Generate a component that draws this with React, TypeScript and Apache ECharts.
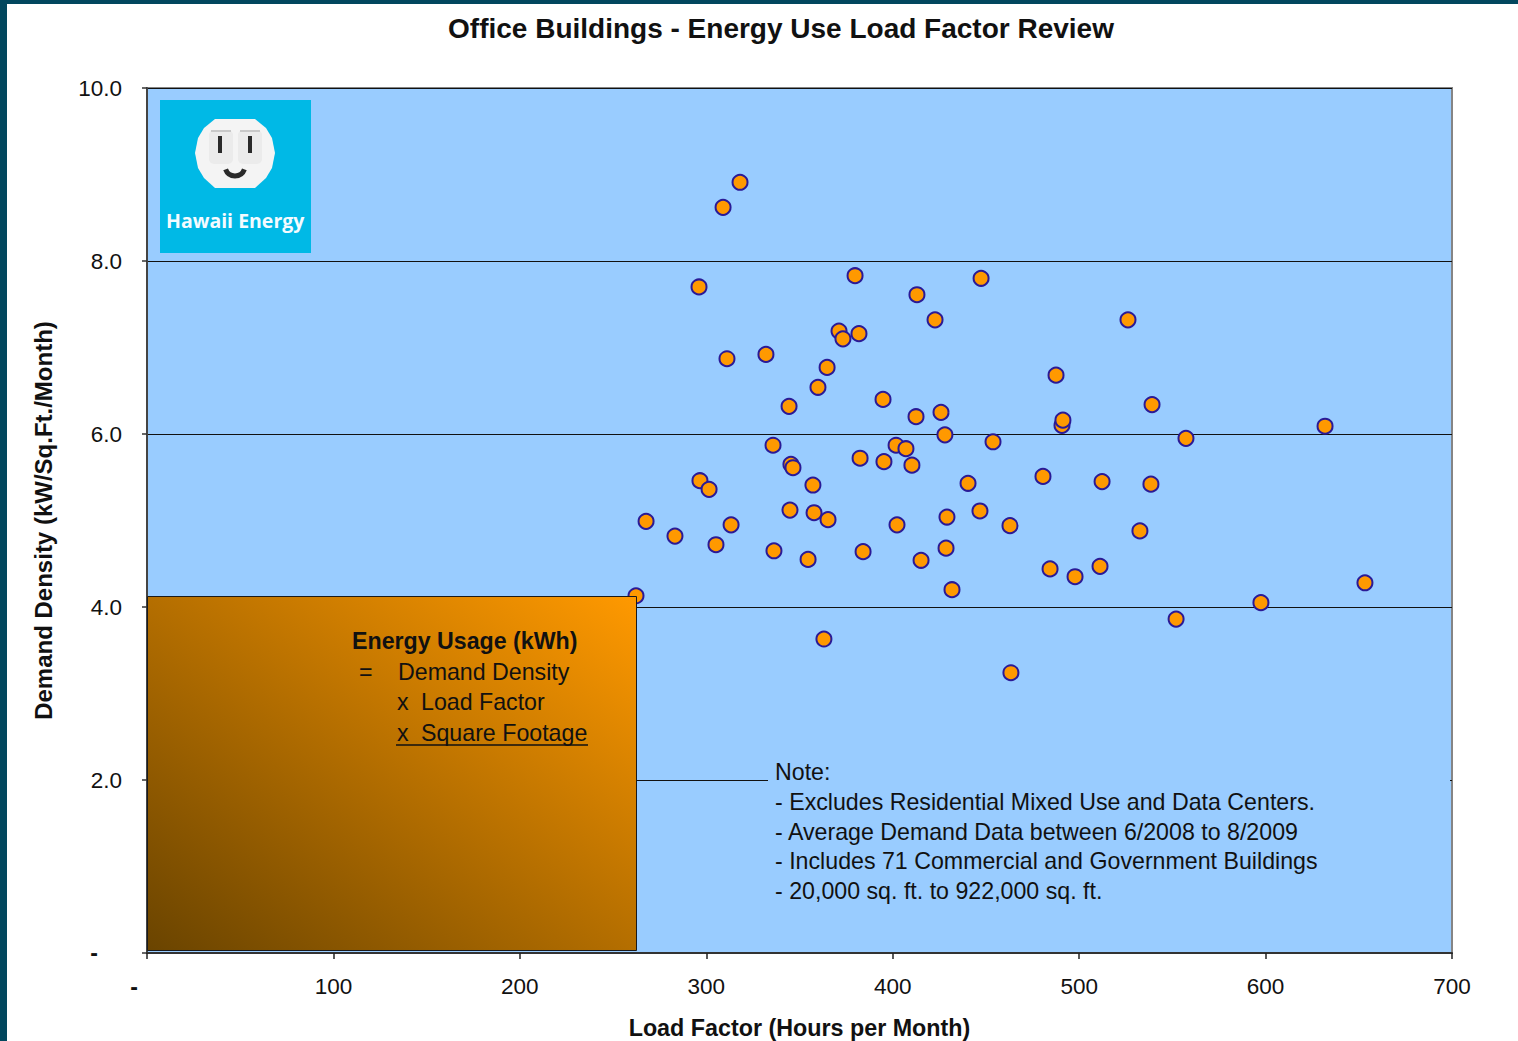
import React, { useEffect, useRef } from "react";
import * as echarts from "echarts";

const titleText = "Office Buildings - Energy Use Load Factor Review";
const xAxisName = "Load Factor (Hours per Month)";
const yAxisName = "Demand Density (kW/Sq.Ft./Month)";
const loadFactor = [
  262.3, 267.7, 283.2, 296.1, 296.6, 301.5, 305.2, 309.0, 311.1, 313.3, 318.1, 332.0, 335.8, 336.3, 344.4, 344.9, 345.4,
  346.5, 354.6, 357.2, 357.8, 359.9, 363.1, 364.8, 365.3, 371.2, 373.3, 379.8, 381.9, 382.5, 384.1, 394.8, 395.3, 401.8,
  402.3, 407.1, 410.3, 412.5, 413.0, 415.2, 422.7, 425.9, 428.0, 428.6, 429.1, 431.8, 440.4, 446.8, 447.4, 453.8, 462.9,
  463.4, 480.6, 484.4, 487.6, 490.8, 491.3, 497.8, 511.2, 512.3, 526.2, 532.6, 538.5, 539.1, 552.0, 557.3, 597.5, 631.9,
  653.3,
];
const demandDensity = [
  4.13, 4.99, 4.82, 7.7, 5.46, 5.36, 4.72, 8.62, 6.87, 4.95, 8.91, 6.92, 5.87, 4.65, 6.32, 5.12, 5.65,
  5.61, 4.55, 5.41, 5.09, 6.54, 3.63, 6.77, 5.01, 7.19, 7.1, 7.83, 7.16, 5.72, 4.64, 6.4, 5.68, 5.87,
  4.95, 5.83, 5.64, 6.2, 7.61, 4.54, 7.32, 6.25, 5.99, 4.68, 5.04, 4.2, 5.43, 5.11, 7.8, 5.91, 4.94,
  3.24, 5.51, 4.44, 6.68, 6.1, 6.16, 4.35, 4.47, 5.45, 7.32, 4.88, 5.42, 6.34, 3.86, 5.95, 4.05, 6.09,
  4.28,
];
const noteLines = [
  "Note:",
  "- Excludes Residential Mixed Use and Data Centers.",
  "- Average Demand Data between 6/2008 to 8/2009",
  "- Includes 71 Commercial and Government Buildings",
  "- 20,000 sq. ft. to 922,000 sq. ft.",
];
const FONT = "'Liberation Sans', Arial, sans-serif";

export default function App() {
  const ref = useRef<HTMLDivElement>(null);
  useEffect(() => {
    document.body.style.margin = "0";
    const chart = echarts.init(ref.current!, undefined, { renderer: "svg" });
    const txt = (x: number, y: number, text: string, bold = false) => ({
      type: "text",
      x,
      y,
      z: 20,
      style: {
        text,
        fill: "#111",
        font: `${bold ? "bold " : ""}23.2px ${FONT}`,
        verticalAlign: "middle",
      },
    });
    chart.setOption({
      animation: false,
      backgroundColor: "#ffffff",
      title: {
        text: titleText,
        left: 776,
        top: 9,
        textAlign: "center",
        textStyle: { fontFamily: FONT, fontSize: 28, fontWeight: "bold", color: "#111" },
      },
      grid: {
        left: 147,
        top: 88,
        width: 1305,
        height: 865,
        outerBoundsMode: "none",
        show: true,
        backgroundColor: "#99ccff",
        borderColor: "#858585",
        borderWidth: 2,
      },
      xAxis: {
        type: "value",
        min: 0,
        max: 700,
        interval: 100,
        name: xAxisName,
        nameLocation: "middle",
        nameGap: 63,
        nameTextStyle: { fontFamily: FONT, fontSize: 23.3, fontWeight: "bold", color: "#111" },
        axisLine: { onZero: false, lineStyle: { color: "#333", width: 2 } },
        axisTick: { length: 6, lineStyle: { color: "#222", width: 1.5 } },
        splitLine: { show: false },
        axisLabel: {
          margin: 22,
          fontFamily: FONT,
          fontSize: 22.5,
          color: "#111",
          showMinLabel: true,
          showMaxLabel: true,
          formatter: (v: number) => (v === 0 ? "{z|-}" : String(v)),
          rich: { z: { fontFamily: FONT, fontSize: 23, fontWeight: "bold", color: "#111", padding: [0, 26, 0, 0] } },
        },
      },
      yAxis: {
        type: "value",
        min: 0,
        max: 10,
        interval: 2,
        name: yAxisName,
        nameLocation: "middle",
        nameGap: 92,
        nameTextStyle: { fontFamily: FONT, fontSize: 24, fontWeight: "bold", color: "#111" },
        axisLine: { onZero: false, lineStyle: { color: "#444", width: 2 } },
        axisTick: { length: 5, lineStyle: { color: "#333", width: 1.5 } },
        splitLine: { show: true, lineStyle: { color: "#111", width: 1 } },
        axisLabel: {
          margin: 25,
          fontFamily: FONT,
          fontSize: 22.5,
          color: "#111",
          formatter: (v: number) => (v === 0 ? "{z|-}" : v.toFixed(1)),
          rich: { z: { fontFamily: FONT, fontSize: 23, fontWeight: "bold", color: "#111", padding: [0, 24, 0, 0] } },
        },
      },
      series: [
        {
          type: "scatter",
          symbol: "circle",
          symbolSize: 15,
          z: 5,
          itemStyle: { color: "#ff9900", borderColor: "#2a1a96", borderWidth: 2, opacity: 1 },
          data: loadFactor.map((x, i) => [x, demandDensity[i]]),
        },
      ],
      graphic: [
        { type: "rect", z: 30, shape: { x: 0, y: 0, width: 1518, height: 4 }, style: { fill: "#02475e" } },
        { type: "rect", z: 30, shape: { x: 0, y: 0, width: 7, height: 1041 }, style: { fill: "#02475e" } },
        { type: "rect", z: 15, shape: { x: 768, y: 760, width: 682, height: 150 }, style: { fill: "#99ccff" } },
        ...noteLines.map((l, i) => txt(775, 772 + i * 29.8, l)),
        {
          type: "rect",
          z: 15,
          shape: { x: 147.5, y: 596.5, width: 489, height: 354 },
          style: {
            stroke: "#1a1a1a",
            lineWidth: 1,
            fill: new echarts.graphic.LinearGradient(1, 0, 0, 1, [
              { offset: 0, color: "#ff9900" },
              { offset: 1, color: "#6a4400" },
            ]),
          },
        },
        txt(352, 641, "Energy Usage (kWh)", true),
        txt(359, 672, "="),
        txt(398, 672, "Demand Density"),
        txt(397, 702, "x"),
        txt(421, 702, "Load Factor"),
        txt(397, 733, "x"),
        txt(421, 733, "Square Footage"),
        { type: "line", z: 20, shape: { x1: 396, y1: 745, x2: 588, y2: 745 }, style: { stroke: "#111", lineWidth: 1.5 } },
        // logo
        { type: "rect", z: 15, shape: { x: 160, y: 100, width: 151, height: 153 }, style: { fill: "#00b9e6" } },
        {
          type: "polygon",
          z: 16,
          shape: {
            points: [[215, 119], [255, 119], [266, 128], [272, 138], [275, 153], [272, 168], [266, 178], [255, 188], [215, 188], [204, 178], [198, 168], [195, 153], [198, 138], [204, 128]],
          },
          style: { fill: "#f4f4f4" },
        },
        { type: "rect", z: 17, shape: { x: 209, y: 130, width: 24, height: 34, r: 5 }, style: { fill: "#ebebeb" } },
        { type: "rect", z: 17, shape: { x: 238, y: 130, width: 24, height: 34, r: 5 }, style: { fill: "#ebebeb" } },
        { type: "rect", z: 17, shape: { x: 211, y: 130, width: 20, height: 2 }, style: { fill: "#c8c8c8" } },
        { type: "rect", z: 17, shape: { x: 240, y: 130, width: 20, height: 2 }, style: { fill: "#c8c8c8" } },
        { type: "rect", z: 18, shape: { x: 218, y: 136, width: 4, height: 17 }, style: { fill: "#2a2a2a" } },
        { type: "rect", z: 18, shape: { x: 248, y: 136, width: 4, height: 17 }, style: { fill: "#2a2a2a" } },
        { type: "arc", z: 18, shape: { cx: 235, cy: 166, r: 10, startAngle: 0.35, endAngle: Math.PI - 0.35 }, style: { stroke: "#2a2a2a", lineWidth: 5, fill: "none" } },
        {
          type: "text",
          x: 166,
          y: 220,
          z: 18,
          style: { text: "Hawaii Energy", fill: "#f4fbff", font: "bold 19.5px 'Open Sans', sans-serif", verticalAlign: "middle" },
        },
      ],
    });
    return () => chart.dispose();
  }, []);
  return <div ref={ref} style={{ position: "absolute", left: 0, top: 0, width: 1518, height: 1041 }} />;
}
